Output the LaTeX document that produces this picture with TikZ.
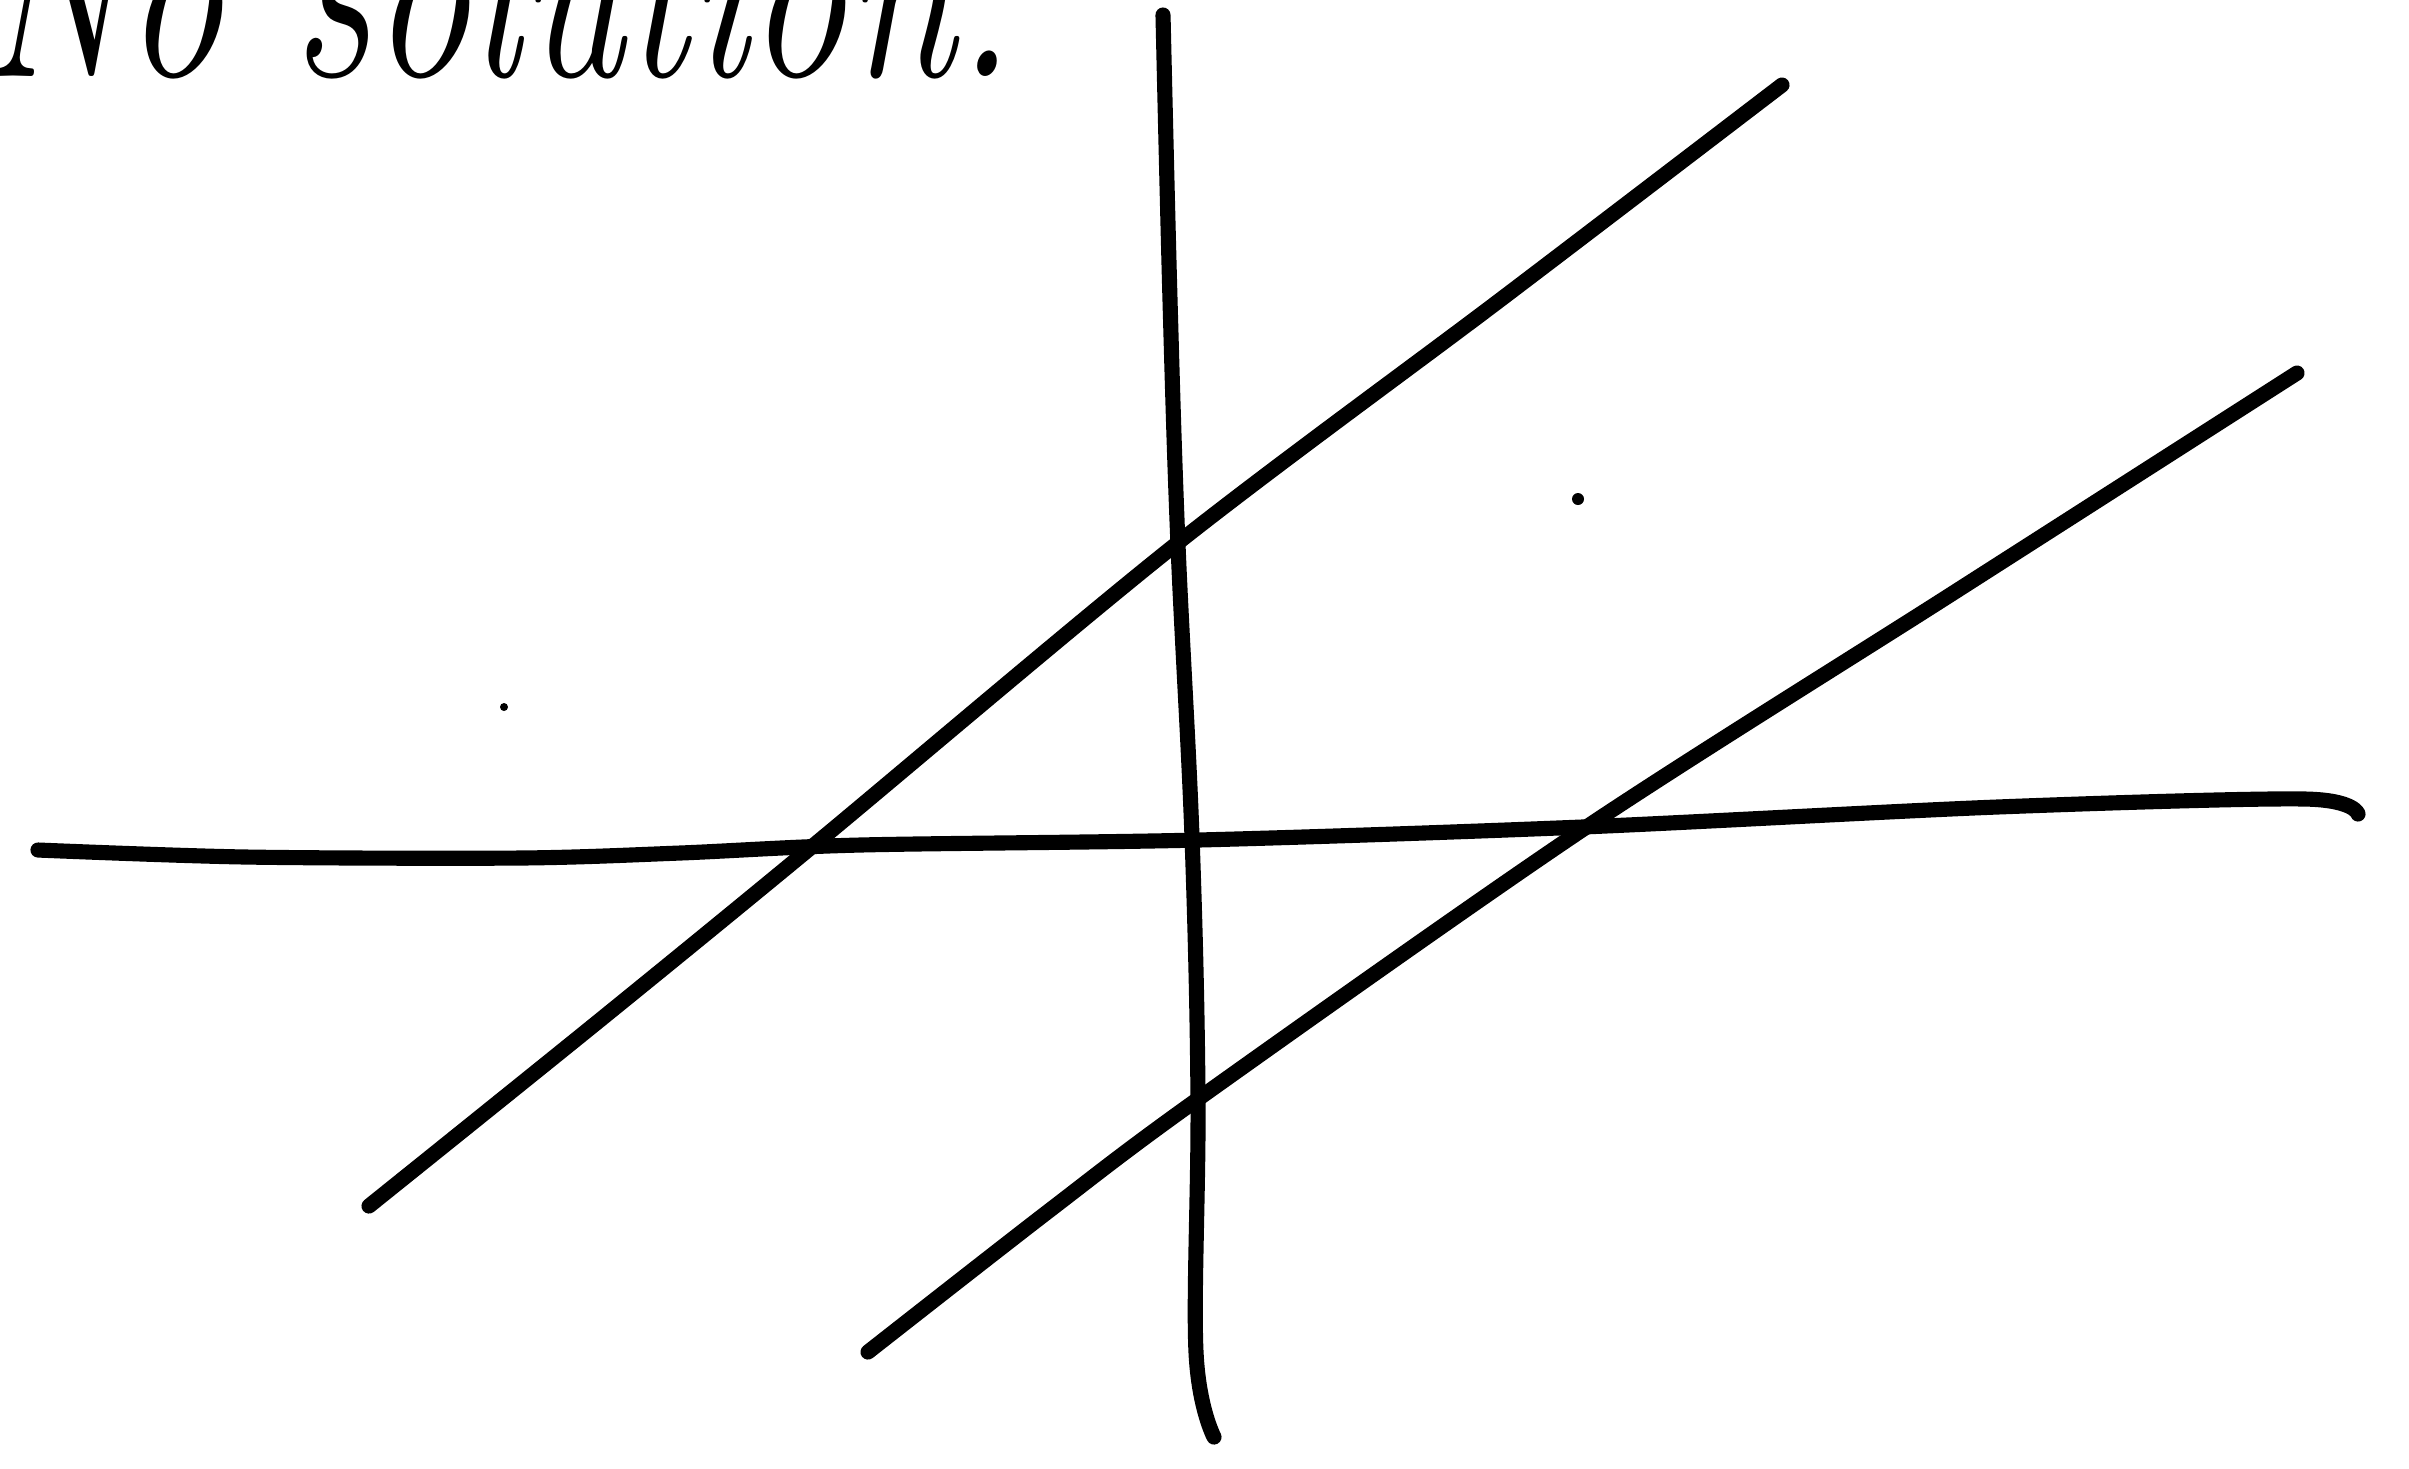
\documentclass[tikz,border=0pt]{standalone}
\usepackage{fontspec}
\begin{document}
\begin{tikzpicture}[x=0.01cm,y=-0.01cm,
  stroke/.style={line width=4.3pt,line cap=round,line join=round}]
\useasboundingbox (0,0) rectangle (2409,1468);
\clip (0,0) rectangle (2409,1468);
\fill[white] (0,0) rectangle (2409,1468);
% text, top cut off
\node[anchor=base west,inner sep=0pt,xscale=0.75,font=\fontsize{75}{85}\selectfont\itshape] (title) at (-20,76) {No solution.};
% vertical axis
\draw[stroke] plot[smooth,tension=0.6] coordinates {(1163,15) (1170,300) (1178,545) (1192,837) (1198,1099) (1196,1352) (1214,1437)};
% horizontal axis
\draw[stroke] plot[smooth,tension=0.5] coordinates {(38,850) (246,857) (520,858) (680,853) (860,845) (1198,840) (1582,827) (1997,807) (2305,799) (2358,814)};
% upper line
\draw[stroke] plot[smooth,tension=0.5] coordinates {(369,1206) (600,1020) (814,845) (1175,545) (1500,300) (1782,85)};
% lower line
\draw[stroke] plot[smooth,tension=0.5] coordinates {(868,1352) (1050,1210) (1198,1099) (1582,830) (1950,595) (2297,373)};
% stray dots
\fill (1578,499) circle (6);
\fill (504,707) circle (4);
\end{tikzpicture}
\end{document}
